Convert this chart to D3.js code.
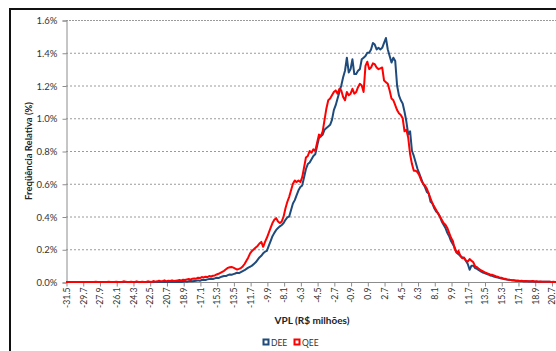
<!DOCTYPE html>
<html>
<head>
<meta charset="utf-8">
<script src="https://cdn.jsdelivr.net/npm/d3@7"></script>
<style>
  html, body { margin: 0; padding: 0; background: #fff; }
  svg { display: block; font-family: Lato, "Open Sans", sans-serif; }
</style>
</head>
<body>
<svg id="chart" width="556" height="351"></svg>
<script>
// Histogram bins of VPL (R$ milhões): width 0.2, first bin centre at -31.5
const binStart = -31.5;
const binWidth = 0.2;

// Axis labels shown every 1.8
const tickLabels = ["-31.5","-29.7","-27.9","-26.1","-24.3","-22.5","-20.7","-18.9","-17.1","-15.3",
  "-13.5","-11.7","-9.9","-8.1","-6.3","-4.5","-2.7","-0.9","0.9","2.7","4.5","6.3","8.1","9.9",
  "11.7","13.5","15.3","17.1","18.9","20.7"];

const yTicks = [0, 0.2, 0.4, 0.6, 0.8, 1.0, 1.2, 1.4, 1.6];

// Relative frequency (%) per bin — DEE
const dee = [
  0,0,0,0,0,0,0,0,0,0,
  0,0,0,0,0,0,0,0,0,0,
  0,0,0,0,0,0,0,0,0,0,
  0,0,0,0,0,0,0,0,0,0,
  0,0,0,0,0,0,0,0,0,0,
  0,0,0,0,0,0,0,0,0.001,0,
  0,0.002,0,0.002,0.004,0.002,0.004,0.006,0.004,0.006,
  0.008,0.010,0.008,0.012,0.014,0.012,0.016,0.018,0.020,0.018,
  0.022,0.026,0.024,0.030,0.034,0.037,0.036,0.042,0.046,0.044,
  0.048,0.052,0.057,0.054,0.060,0.066,0.072,0.080,0.088,0.093,
  0.100,0.110,0.120,0.135,0.150,0.160,0.175,0.185,0.190,0.220,
  0.250,0.280,0.300,0.318,0.330,0.340,0.348,0.360,0.380,0.395,
  0.400,0.440,0.480,0.500,0.530,0.560,0.580,0.590,0.640,0.690,
  0.720,0.730,0.750,0.770,0.780,0.830,0.880,0.890,0.900,0.930,
  0.940,0.950,0.960,0.990,1.050,1.080,1.120,1.160,1.200,1.250,
  1.290,1.370,1.280,1.300,1.360,1.270,1.270,1.290,1.300,1.360,
  1.370,1.380,1.400,1.400,1.420,1.460,1.450,1.420,1.430,1.420,
  1.430,1.460,1.490,1.420,1.380,1.340,1.370,1.350,1.200,1.140,
  1.110,1.090,1.040,0.980,0.900,0.920,0.800,0.770,0.730,0.690,
  0.660,0.630,0.600,0.580,0.550,0.540,0.490,0.480,0.450,0.430,
  0.420,0.400,0.370,0.350,0.330,0.300,0.280,0.250,0.230,0.210,
  0.180,0.170,0.160,0.150,0.145,0.130,0.110,0.075,0.100,0.100,
  0.085,0.080,0.072,0.065,0.058,0.055,0.050,0.046,0.040,0.038,
  0.034,0.030,0.028,0.024,0.022,0.020,0.017,0.015,0.013,0.012,
  0.010,0.009,0.008,0.007,0.006,0.006,0.005,0.004,0.004,0.003,
  0.003,0.003,0.002,0.002,0.002,0.001,0.002,0.001,0.001,0.001,
  0.001,0,0,0,0,0,0,0
];

// Relative frequency (%) per bin — QEE
const qee = [
  0,0,0,0,0,0,0,0,0,0,
  0,0,0,0,0,0,0.002,0,0,0,
  0,0,0,0.002,0,0,0,0.002,0,0,
  0,0.004,0.002,0,0,0.002,0,0,0.004,0,
  0,0.002,0,0,0.004,0.002,0,0.006,0.002,0.004,
  0.008,0.004,0.006,0.010,0.004,0.008,0.006,0.010,0.006,0.008,
  0.010,0.012,0.008,0.014,0.012,0.016,0.018,0.014,0.020,0.022,
  0.020,0.026,0.024,0.030,0.028,0.032,0.030,0.036,0.034,0.038,
  0.040,0.046,0.050,0.056,0.062,0.068,0.078,0.086,0.090,0.092,
  0.088,0.082,0.076,0.080,0.085,0.095,0.110,0.130,0.150,0.175,
  0.190,0.200,0.210,0.220,0.235,0.245,0.215,0.245,0.270,0.300,
  0.330,0.360,0.380,0.390,0.370,0.360,0.370,0.400,0.450,0.490,
  0.520,0.560,0.600,0.620,0.610,0.620,0.610,0.640,0.700,0.760,
  0.770,0.800,0.790,0.810,0.800,0.850,0.900,0.890,0.920,0.990,
  1.060,1.110,1.120,1.140,1.160,1.170,1.150,1.180,1.170,1.130,
  1.110,1.160,1.140,1.150,1.180,1.150,1.160,1.190,1.210,1.200,
  1.160,1.320,1.345,1.300,1.310,1.335,1.330,1.310,1.300,1.305,
  1.310,1.230,1.220,1.210,1.170,1.120,1.110,1.080,1.050,1.030,
  1.020,1.000,0.920,0.930,0.880,0.780,0.720,0.680,0.680,0.670,
  0.650,0.620,0.600,0.590,0.570,0.540,0.510,0.480,0.460,0.440,
  0.420,0.400,0.380,0.360,0.350,0.330,0.300,0.270,0.250,0.200,
  0.180,0.190,0.160,0.145,0.150,0.130,0.125,0.140,0.130,0.120,
  0.095,0.090,0.080,0.072,0.066,0.060,0.056,0.050,0.046,0.044,
  0.040,0.035,0.032,0.028,0.026,0.022,0.020,0.016,0.014,0.012,
  0.010,0.010,0.008,0.008,0.006,0.007,0.005,0.006,0.004,0.005,
  0.004,0.006,0.003,0.004,0.002,0.003,0.002,0.002,0.001,0.002,
  0.001,0,0.001,0,0,0,0,0
];

const seriesNames = ["DEE", "QEE"];
const seriesColors = ["#1f4a7c", "#ff0000"];

// Bin centres as category keys
const categories = dee.map((_, i) => (binStart + i * binWidth).toFixed(1));

const svg = d3.select("#chart");

// Outer chart frame
svg.append("rect")
  .attr("x", 10).attr("y", 9)
  .attr("width", 600).attr("height", 400)
  .attr("fill", "none").attr("stroke", "#111").attr("stroke-width", 2);

const plotLeft = 66, plotTop = 20, plotBottom = 282;
const step = 1.86;

const x = d3.scalePoint()
  .domain(categories)
  .range([plotLeft, plotLeft + (categories.length - 1) * step]);

const y = d3.scaleLinear()
  .domain([0, 1.6])
  .range([plotBottom, plotTop]);

// Horizontal gridlines
svg.append("g")
  .selectAll("line")
  .data(yTicks.slice(1))
  .join("line")
  .attr("x1", plotLeft).attr("x2", 556)
  .attr("y1", d => y(d) + 0.5).attr("y2", d => y(d) + 0.5)
  .attr("stroke", "#9a9a9a")
  .attr("stroke-width", 1)
  .attr("stroke-dasharray", d => d === 1.6 ? "2,1" : "2,2");

// Y axis
const yAxis = d3.axisLeft(y)
  .tickValues(yTicks)
  .tickSize(4)
  .tickFormat(d => d.toFixed(1) + "%");
const gy = svg.append("g")
  .attr("transform", `translate(${plotLeft + 0.5},0.5)`)
  .call(yAxis);
gy.select(".domain").attr("stroke", "#8c8c8c");
gy.selectAll(".tick line").attr("stroke", "#8c8c8c");
gy.selectAll(".tick text")
  .attr("x", -9)
  .attr("fill", "#333")
  .style("font-size", "9.5px")
  .style("font-family", "Lato, sans-serif");

// X axis (category labels every 1.8)
const xAxis = d3.axisBottom(x)
  .tickValues(tickLabels)
  .tickSize(4)
  .tickFormat(d => d);
const gx = svg.append("g")
  .attr("transform", `translate(0.5,${plotBottom + 0.5})`)
  .call(xAxis);
gx.select(".domain").attr("stroke", "#8c8c8c").attr("d", `M${plotLeft},0H556`);
gx.selectAll(".tick line").attr("stroke", "#8c8c8c");
gx.selectAll(".tick text")
  .attr("transform", "rotate(-90)")
  .attr("x", -5)
  .attr("y", 0)
  .attr("dy", "0.32em")
  .attr("text-anchor", "end")
  .attr("fill", "#333")
  .style("font-size", "8.7px")
  .style("font-family", "Lato, sans-serif");

// Lines
const line = d3.line()
  .x((d, i) => x(categories[i]))
  .y(d => y(d));

[dee, qee].forEach((values, k) => {
  svg.append("path")
    .datum(values)
    .attr("d", line)
    .attr("fill", "none")
    .attr("stroke", seriesColors[k])
    .attr("stroke-width", 2)
    .attr("stroke-linejoin", "round");
});

// Axis titles
svg.append("text")
  .attr("x", 312).attr("y", 324)
  .attr("text-anchor", "middle")
  .attr("font-weight", "bold")
  .attr("font-size", "10px")
  .attr("fill", "#222")
  .text("VPL (R$ milhões)");

svg.append("text")
  .attr("transform", "translate(32,151) rotate(-90)")
  .attr("text-anchor", "middle")
  .attr("font-weight", "bold")
  .attr("font-size", "9.5px")
  .attr("fill", "#222")
  .text("Freqüência Relativa (%)");

// Legend
const legend = svg.append("g").attr("transform", "translate(263,343)");
const legendX = [0, 31];
seriesNames.forEach((name, k) => {
  const g = legend.append("g").attr("transform", `translate(${legendX[k]},0)`);
  g.append("rect")
    .attr("x", 0.5).attr("y", -3.5)
    .attr("width", 5).attr("height", 5)
    .attr("fill", "#fff")
    .attr("stroke", seriesColors[k])
    .attr("stroke-width", 2);
  g.append("text")
    .attr("x", 8).attr("y", 2.5)
    .attr("font-size", "8.5px")
    .attr("fill", "#333")
    .text(name);
});
</script>
</body>
</html>
